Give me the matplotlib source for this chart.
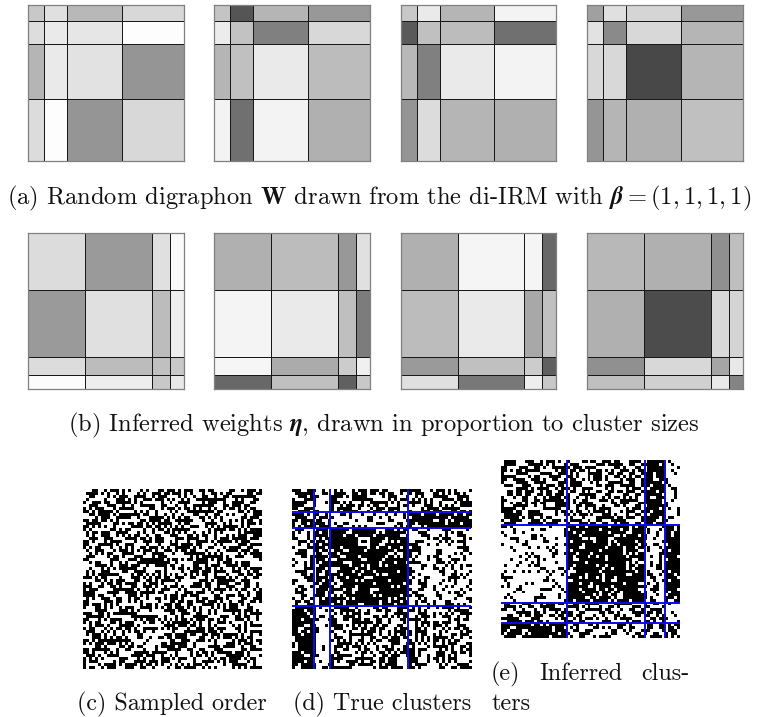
import numpy as np
import matplotlib
matplotlib.use('Agg')
import matplotlib.pyplot as plt

plt.rcParams['font.family'] = ['cmr10', 'DejaVu Serif']
plt.rcParams['mathtext.fontset'] = 'cm'
plt.rcParams['axes.unicode_minus'] = False

W = 766
H = 717

# cluster sizes of the two weight rows
sizes_a = [16, 23, 55, 62]
sizes_b = [57, 67, 18, 14]

# grey levels of each block
weights_a = [
    [[0xc8, 0xe0, 0xb8, 0xd8], [0xdd, 0xea, 0xe6, 0xfd], [0xb5, 0xea, 0xe2, 0x95], [0xdc, 0xfd, 0x95, 0xd8]],
    [[0xc4, 0x55, 0xb5, 0x98], [0xec, 0xc2, 0x80, 0xd8], [0xb5, 0xc0, 0xea, 0xbc], [0xf3, 0x70, 0xf3, 0xb0]],
    [[0xc8, 0xea, 0xb5, 0xf3], [0x5a, 0xc0, 0xbc, 0x70], [0xb8, 0x80, 0xea, 0xf3], [0x95, 0xdc, 0xb5, 0xb0]],
    [[0xa0, 0xe0, 0xd5, 0x98], [0xe2, 0x8a, 0xd8, 0xb5], [0xd8, 0xd8, 0x48, 0xb5], [0x95, 0xb5, 0xb0, 0xc0]],
]
weights_b = [
    [[0xdc, 0x9a, 0xe0, 0xfa], [0x9a, 0xe0, 0xbc, 0xee], [0xdc, 0xbc, 0xc0, 0xc8], [0xfc, 0xee, 0xc8, 0xe8]],
    [[0xb0, 0xbc, 0x98, 0xe0], [0xf4, 0xea, 0xbf, 0x7c], [0xf6, 0xab, 0xcc, 0xf0], [0x68, 0xc0, 0x60, 0xc8]],
    [[0xb0, 0xf5, 0xf5, 0x68], [0xbc, 0xea, 0xa8, 0xc0], [0x9a, 0xc0, 0xcc, 0x60], [0xe0, 0x78, 0xee, 0xc8]],
    [[0xb8, 0xb0, 0x90, 0xbf], [0xb0, 0x4c, 0xd8, 0xd4], [0x90, 0xd8, 0xa5, 0xe8], [0xc0, 0xd0, 0xe8, 0x84]],
]

# adjacency rows, 1 is an edge (black), spaces only to keep the blocks readable
sampled = """
111001100111011 000110111001101 110001110110011 100111001101110
100111001100010 111001100011100 111011000110001 111000110011001
001100011101110 011100111100010 011000111001110 001110011100110
111000110001100 110011000111011 100111001100011 110001100111000
110110001110001 001110011000111 001100110011100 011100111000111
000111100011011 100011100111000 110011100110001 100011001110011
011100111000110 111000011001110 011110001100111 001111000110001
111001000111001 001101100011001 100011011100110 110000111001110
100011011000111 110001110111100 011001100011100 111001100011011
001111001110000 011100011000111 110111000111001 001100111100100
110000110011110 100111100110001 100010011100111 011000110011111
011100011100011 011000111001110 001110110001100 110111001100000
100111100011000 110110001110011 110001100111000 001110000111011
001100011110110 001100110001110 011100011100111 100011110001100
111000110001111 100011001111000 100110001111001 011100011001110
010011100110001 011100111001100 001111000110011 110001110110001
110111000111100 000111000110011 110001101100110 001110001101110
001100111000011 110000111100110 011100110011000 111001100011001
100011001111000 011110001100111 100011001110011 000110011100110
011100110001110 100111000011000 111001110001100 110001110011011
111000011100111 001100111001110 001100011100111 001111000110000
000111100011000 111001100110001 110011100011000 110000111001111
110001110001110 001110000111100 011100111000110 011100011110001
001110001100011 110001110001111 000110001110011 100011100011100
100011111000110 000111001100011 111000110011100 011110001100011
011100100111001 110001100111000 110001111000111 000110011100110
110011000111100 011100011000111 000111000110001 110001110011001
001100111000011 100111110001100 011100011100110 001110001100110
111000110011100 001100011100111 100011100011001 111001110001100
000111001100011 110011100011000 111000110011110 000110011100011
110001110011100 001110001111000 001110001110001 110011000111001
011100001110011 110000110001111 100111000011110 001100111000110
100111100011000 011100111001100 011000111100011 100011100110001
001100111100110 100011001110011 000111000111000 111000111001110
111000110001111 001111000110001 110001110001100 011100011000111
000111000111000 110001110001110 011100011101110 000111001110001
110011100011100 011100011100011 100011100011001 110001100111100
011100011100011 000111100011100 011110001100110 001110011000110
100011110001100 111000110001111 000111001110001 110001100111001
001110001110011 001111001110000 110001110011100 011100011100110
110001100111000 110000110011110 001110001100011 100111001100011
011110011000111 011100001110011 100011110001110 001100011110001
000111001110001 100111000111000 011100011001110 110011100011100
111000110001110 001100111000111 100011100110001 001110001100111
001110001111000 110001100111000 011110001100111 100011100111000
110001110011100 011110001110011 000110011100110 011100011000111
011100011000111 000111001100011 110011100011001 110001110011000
100111000111001 110000111001110 001100011110011 000111000111100
001100111000110 011100011110001 110001110001100 111000110001110
111001100011100 100011100011100 011110001100011 001110011000111
010011100111000 111001100011000 100111001110001 110001100111000
101110011000111 000111001111000 011000111000110 001111000110011
110001110001100 110001100011110 001110011100011 100011100111000
001100011110011 001110011100011 110011000111100 011100011000111
111000110001110 110011100011100 000111100011000 110001110011100
100111001110001 001100011100111 011000110011111 001110001110001
011100111000110 111000110001100 110011100011001 100011001111000
000111000011111 000111001110011 100011100110001 011100110001110
110001111000100 111000110001110 001110001100111 000111001110001
011110001110011 001100011110001 111000111001100 110001100011100
"""

true_order = """
11101100 00100 11001110011010011100110110 110011000110110011100
11011110 01000 01110001100111001101100011 011001110011001101101
01110011 00000 10011011100011011001110011 100110011100110010011
10111011 00001 11100110001101100111000110 011100110001100111001
11001101 00100 00111001110010011001101101 110011011001101100110
01111001 00000 11001100011011100110011100 001101100110011010011
11100111 01001 01101110110001101100100111 100110110001110011100
10011110 00000 10110011001110010111001100 011001001110001100111
11001110 11001 00011000100011000010001000 111011111110111011111
01111100 10111 01000001100000110001000011 111110111011111110111
10011111 01100 00110010000100000110010001 011111101111011111011
11111001 11011 10000110001000100000110100 110111011111110110111
01110111 10110 00001000011001001000001000 111101111011011111101
01101100 11101 01111101111011011111101110 00011000100110000110
10011001 01101 11101111110111101110111101 10000110010001100001
11000110 11110 10011110111101111011111011 01100001000100011000
00111001 10111 11110101111111011110110111 00100110001001000110
10100100 11011 10111110101111110111011111 10001000011000100001
01100010 01111 11101111010111101111101110 01110011000110001100
00011011 11010 01111011111011111011110111 00011000110010011010
01001100 10111 11011111011101011111011110 11000110000111000100
01100001 11101 10111011111110101111110111 00110001100001100011
11000110 10110 11110110111111010111011111 01000111000110010000
00100011 11011 01111111011101111011101110 00011000110001000111
00011000 01111 11011101111101111101011111 11000011000100110000
10000110 11101 11101111011111011110101101 00110000111000001100
01100001 10111 10111111101101111111010111 10001100000110001001
00110100 11010 11110111110111101111101011 01000011001000110000
10001001 01111 01111011011111111011110101 00110000100110000110
01000110 11101 11011111101110111110111010 10001110000100011000
00110000 10111 10111011111101111011111101 01100001100011000011
11000011 11011 11110111011111011111011110 10011000010000110100
01100100 01110 01111101111011111110111101 00000111001100001001
00011001 11101 11011111101111011101111110 11000100110001100010
10000110 10111 10111101111110111111011011 00110001000011000110
01110000 11011 11101111011011111011110111 10001100011000110001
11001100 01101 11111011111101101111101110 01100010001110000110
00110011 11110 10110111101111111011011111 00010011000100111000
11100100 10111 01111110111011110111110101 11000110010001000111
11111011 00110 11001100110010110011001101 00110011001101100110
11101111 00000 01110011001101001110110010 11001100110010011101
10111111 01000 10011011100110110001001101 00110111001101100010
11111101 00001 11000110011100011011100110 01101100110010011011
01111110 00100 00111001100011100110011001 11000110011100110100
11110111 00000 11001110110011001100111010 00111001100110001101
11011111 10001 10110001001110011011000111 10011000111001101100
11111011 00000 01001100111001100110110010 01100111000110011011
10111110 01000 11100111000110110001100110 11001100110011000110
11111101 00000 00110011011000011100111001 00111011001100111001
01111111 00010 10011100100111001100011100 11000110011101100110
11101111 10000 01100011011100110011100011 00110010110011011001
11111011 00000 11011100110001100110011100 11001101001100100111
10111110 00100 00110011001110011100110011 01110011100110011000
11110111 00000 11001100110011000111001100 10011000110011101100
01111101 01001 01110011100110111000110011 01100111001100011011
11101111 00000 10011001100011001101110001 10011001100111001100
11111110 00000 11000111011100110010011100 11001110011000110011
10110111 10000 00111000110011011100110110 00110001100110011100
11101101 00001 11001101001100011011001001 11100110011100110001
01111011 00100 01100110111001100110110110 00011011001001101110
"""

inferred_order = """
1110011001101100111001 01100110011100011001101100 1101110 00100
1001110110011011000111 11001100010011101100011001 1111011 01000
0111001100110001110011 00110011101100110011100110 1011111 00001
1100111011001110011000 10011001100011001110011001 1110111 00100
0011100110110011001110 01100111001110110001100111 1111101 10000
1110011100011001110011 11001100110001100110110001 0111111 00010
1001100111001110011100 00111011001100111001001110 1101111 01000
0111110011100110001101 11000110011011000111100110 1111011 00001
1100011001101110110011 00110011100110011001100011 1011110 00100
0011101100110011100110 11011000111001100110011100 1110111 10000
1110010011011001110011 00100111001100111011001101 1111101 00010
1001110110001100111001 11001100011001001100110010 0111111 01001
0110011001110011000111 01110011100111001100011100 1101111 00000
1100110111001110110010 10001100110011011001110011 1111011 00100
0011001100011001101110 01110110011100110011000110 1011111 10001
1110110011100110011001 10011001100011001100111001 1110111 00010
1001100110011011100110 00110110011100111001100110 1111110 01000
0111011100110001100111 11001100110011000111011001 1101111 00000
1100100111001110011001 00111001101100110001100111 1111011 00100
0011011001100111001110 11000111001001100110011000 1011111 10010
1110110011011000110011 01100110011110011001110011 1110111 00001
0100111001100110011100 10011001100011100110001100 1101101 01000
0000110001000000011000 11101111101111011111101111 0011001 11011
0110000000011000000001 10111011111011111011011111 0100011 11111
0000001100000100110000 11111101111110111110111011 1100000 10111
0011000001000001000010 01111111011011111101111110 0010010 11101
0000011000000000000100 11011101111101101111101111 1000100 01111
1000000001100011000000 11110111111011110111111101 0011001 11111
0000100000000100000011 10111110110111111011011111 0100000 11011
0110000100000000110000 11101111011101111111101110 0001001 11110
0000000011000000000100 01111011111110111101111011 1100010 10111
0001100000001100000000 11011111011111011011110111 0000100 11111
0000001000000000011000 11111101101111101110111101 0011000 01111
1100000000110000000001 10111011111011110111011111 0100010 11101
0000110000000001100000 11110111111101101111101110 1000001 11111
0010000001000000000110 01111110111111011011111011 0001100 10111
0000000110000110000000 11011011110111111101111101 0100001 11111
0100001000000000010000 11110111011111011111011011 0010010 01110
0001000000110000000011 10111111101101111011111110 1100000 11111
0000000100000011000000 11101101111111011110110111 0001001 11011
1000010000000000100001 01111011110111101111101111 0100010 11111
0011000000100100000000 11011111011110111101111101 0010100 01111
0000001001000000011000 11111011101111011111011011 1000001 11110
0110000100000110000011 01101111111011110110111101 0001010 10111
0000110000100000110000 11110110111101111011111011 0100100 11111
1001000110001100000100 10111111011011101111101110 0010011 11101
0011001000110000011001 11011101111110111011011111 1000100 01111
0100011000001100100010 01110111101111011111110101 0011000 11111
1011001100110101100110 00110011011001101100110010 1001100 00000
0110011011001001110011 11001100100110001001100101 0110110 00100
1100110010011100011001 00110010011001110110010011 1100011 00001
0011100110110011001100 10011101100110001001101100 0011001 10000
1001101100011001110011 01100100011001100110010001 1011100 00010
0110011001100110011100 11001011001100111001001100 0110011 00000
1100100110110011000111 00110001100011000110011001 1001101 01000
1111110111011111101101 00110001001100100011001100 1100110 10011
1101111111101101110111 11000100110001001100010011 0011001 01101
1110111011111111011111 00011001000110001001100100 1100110 11010
0111111110110111111011 01100010011000110010011001 0110011 00111
1111011111011110110111 10001001100010011000100110 1001100 11001
"""

# node orderings applied to rows and columns of each matrix
sampled_perm = [17, 42, 5, 31, 56, 12, 38, 2, 49, 23, 59, 8, 34, 15, 44, 27, 0, 53, 20, 36,
                10, 47, 29, 4, 57, 14, 40, 25, 51, 7, 33, 18, 45, 1, 55, 22, 37, 11, 48, 28,
                3, 58, 16, 41, 26, 52, 9, 35, 19, 46, 6, 30, 54, 13, 39, 24, 50, 21, 43, 32]
true_perm = [3, 6, 0, 5, 1, 7, 2, 4, 10, 8, 12, 9, 11,
             25, 14, 33, 19, 38, 28, 16, 36, 22, 13, 30, 18, 35, 26, 15, 32, 21, 37, 24, 17, 29, 34, 20, 27, 31, 23,
             50, 41, 56, 45, 39, 53, 47, 59, 43, 51, 40, 55, 48, 42, 58, 46, 52, 44, 57, 49, 54]
inferred_perm = [9, 2, 15, 20, 6, 12, 0, 18, 4, 11, 16, 1, 21, 7, 13, 3, 19, 10, 5, 14, 8, 17,
                 35, 24, 42, 29, 47, 31, 22, 38, 26, 44, 33, 28, 40, 23, 36, 46, 30, 25, 41, 34, 27, 45, 32, 39, 43, 37,
                 51, 48, 53, 50, 54, 49, 52, 57, 55, 59, 56, 58]

# cluster boundaries in matrix cells
cuts_true = [7.6, 12.8, 39.0]
cuts_inferred = [22.0, 48.2, 55.0]

caption_a = r'(a) Random digraphon $\mathbf{W}$ drawn from the di-IRM with $\boldsymbol{\beta} = (1, 1, 1, 1)$'
caption_b = r'(b) Inferred weights $\boldsymbol{\eta}$, drawn in proportion to cluster sizes'
caption_c = '(c) Sampled order'
caption_d = '(d) True clusters'
caption_e = ['(e)', 'Inferred', 'clus-', 'ters']


def px_axes(fig, x0, y0, x1, y1):
    ax = fig.add_axes([x0 / W, 1 - y1 / H, (x1 - x0) / W, (y1 - y0) / H])
    return ax


def parse(txt, order):
    rows = [r.replace(' ', '') for r in txt.strip().splitlines()]
    n = 60
    mat = np.array([[int(c) for c in r[:n].ljust(n, '0')] for r in rows])
    return mat[np.ix_(order, order)]


def blocks(ax, sizes, vals):
    edges = np.concatenate([[0], np.cumsum(sizes)])
    ax.pcolormesh(edges, edges, np.array(vals), cmap='gray', vmin=0, vmax=255,
                  edgecolors='#181818', linewidth=0.6)
    ax.set_xlim(0, edges[-1])
    ax.set_ylim(edges[-1], 0)
    ax.set_xticks([])
    ax.set_yticks([])
    for s in ax.spines.values():
        s.set_color('#808080')
        s.set_linewidth(0.9)


def adjacency(ax, mat, cuts=None):
    ax.imshow(mat, cmap='gray_r', vmin=0, vmax=1, aspect='auto', interpolation='nearest')
    if cuts:
        for c in cuts:
            ax.axvline(c - 0.5, color='#0a0af0', lw=1.4)
            ax.axhline(c - 0.5, color='#0a0af0', lw=1.4)
    ax.axis('off')


def label(fig, x, y, s, ha='left', size=17.35):
    fig.text(x / W, 1 - y / H, s, ha=ha, va='baseline', fontsize=size, color='#111111')


fig = plt.figure(figsize=(W / 100, H / 100), dpi=100)

panel_x = [(28, 183.7), (214, 369.7), (401, 556), (587, 743)]
for (x0, x1), vals in zip(panel_x, weights_a):
    blocks(px_axes(fig, x0, 4.7, x1, 161), sizes_a, vals)
for (x0, x1), vals in zip(panel_x, weights_b):
    blocks(px_axes(fig, x0, 232.7, x1, 388.7), sizes_b, vals)

adjacency(px_axes(fig, 83, 489.3, 262, 669), parse(sampled, sampled_perm))
adjacency(px_axes(fig, 291.7, 489.3, 471, 669), parse(true_order, true_perm), cuts_true)
adjacency(px_axes(fig, 501, 460, 680, 638), parse(inferred_order, inferred_perm), cuts_inferred)

label(fig, 7, 204, caption_a, size=17.65)
label(fig, 68, 431.5, caption_b, size=17.65)
label(fig, 77, 710, caption_c)
label(fig, 293, 710, caption_d)
label(fig, 491, 680, caption_e[0])
label(fig, 539, 680, caption_e[1])
label(fig, 689, 680, caption_e[2], ha='right')
label(fig, 491, 710, caption_e[3])

fig.savefig('out.png', dpi=100)
